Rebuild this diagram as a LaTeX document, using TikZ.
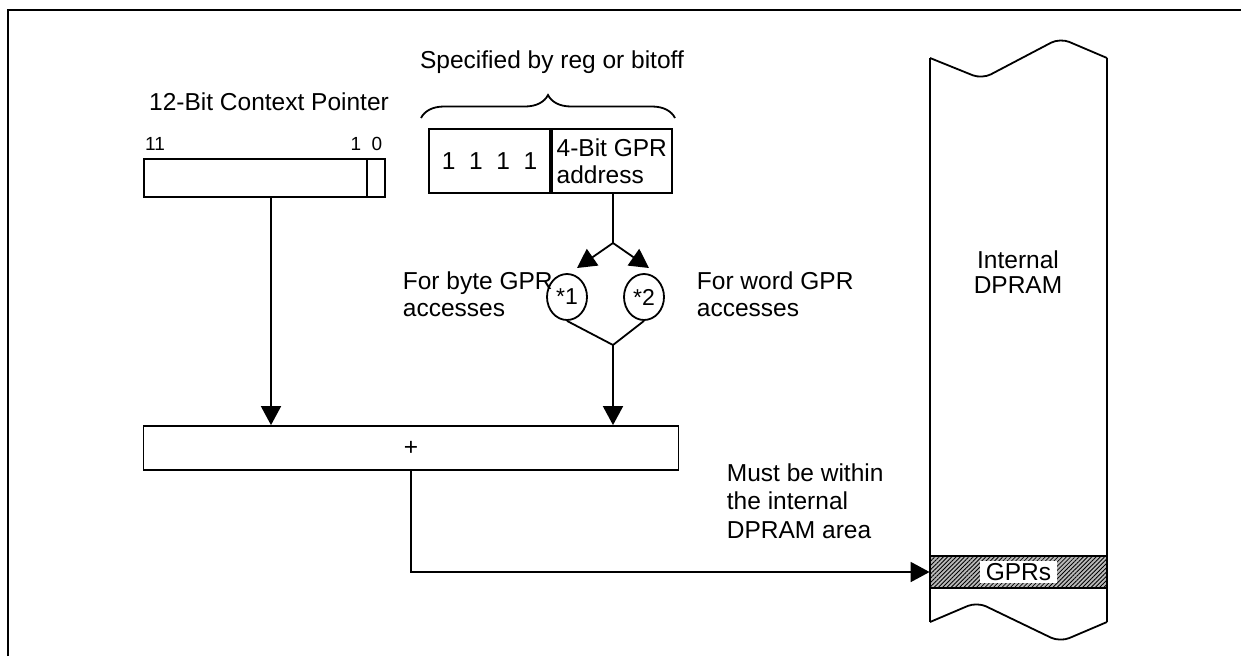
\documentclass[tikz,border=0pt]{standalone}
\usepackage{fontspec}
\setmainfont{Liberation Sans}
\usetikzlibrary{arrows.meta,shapes.geometric,decorations.pathreplacing,patterns.meta}
\tikzset{
	box/.style={draw, line width=1.8},
	arr/.style={-{Triangle[length=19,width=20]}, line width=1.8},
	ell/.style={draw, ellipse, line width=1.8, minimum width=40, minimum height=46, font=\fontsize{23}{25}\selectfont},
	bitno/.style={font=\fontsize{19}{21}\selectfont},
	band/.style={box, preaction={fill=gray!55}, pattern={Lines[angle=45,distance=3pt,line width=0.8pt]}}
}
\begin{document}
\begin{tikzpicture}[x=1pt, y=-1pt, line width=1.8, inner sep=0, font=\fontsize{24.5}{27}\selectfont]
	\useasboundingbox (0,0) rectangle (1241,656);
	\draw[line width=2.2] (8,656) -- (8,10) -- (1241,10);
	\node (ptrlbl) at (269,102) {12-Bit Context Pointer};
	\node (msb) at (155,144) [bitno] {11};
	\node (b1) at (356,144) [bitno] {1};
	\node (b0) at (377,144) [bitno] {0};
	\node (ctx) at (264.5,178) [box, minimum width=241, minimum height=38] {};
	\node (bit0) at (ctx.east) [box, anchor=east, minimum width=18, minimum height=38] {};
	\node (speclbl) at (552,62) {Specified by reg or bitoff};
	\draw[decorate, decoration={brace, amplitude=23}] (421,118) -- (675,118);
	\node (ones) at (489.5,161) [box, minimum width=121, minimum height=64] {1\ \ 1\ \ 1\ \ 1};
	\node (gpr) at (ones.east) [box, anchor=west, minimum width=120, minimum height=64, align=left] {4-Bit GPR\\address};
	\coordinate (split) at (613,243);
	\coordinate (join) at (613,345);
	\coordinate (in1) at (577,268);
	\coordinate (in2) at (649,268);
	\node (c1) at (567,297) [ell] {*1};
	\node (c2) at (644,297) [ell] {*2};
	\node (bytelbl) at (402,294) [anchor=west, align=left] {For byte GPR\\accesses};
	\node (wordlbl) at (696,294) [anchor=west, align=left] {For word GPR\\accesses};
	\draw (split |- gpr.south) -- (split);
	\draw[arr] (split) -- (in1);
	\draw[arr] (split) -- (in2);
	\draw (c1.south) -- (join) -- (c2.south);
	\node (add) at (411,448) [box, minimum width=535, minimum height=44] {+};
	\draw[arr] ([xshift=6.5]ctx.south) -- ([xshift=6.5]ctx.south |- add.north);
	\draw[arr] (join) -- (join |- add.north);
	\draw (930,622) -- (930,58);
	\draw (1107,622) -- (1107,58);
	\draw[rounded corners=10] (930,58) -- (982,79) -- (1060,38) -- (1107,58);
	\draw[rounded corners=10] (930,622) -- (977,602) -- (1060,642) -- (1107,622);
	\node (dpram) at (1018,272) [align=center, font=\fontsize{24.5}{25}\selectfont] {Internal\\DPRAM};
	\node (gprs) at (1018.5,572) [band, minimum width=177, minimum height=32] {};
	\node (gprtxt) at (gprs) [fill=white, inner xsep=6, inner ysep=2] {GPRs};
	\node (mustlbl) at (726,501) [anchor=west, align=left, font=\fontsize{24.5}{28.5}\selectfont] {Must be within\\the internal\\DPRAM area};
	\draw[arr] (add.south) |- (gprs.west);
\end{tikzpicture}
\end{document}
